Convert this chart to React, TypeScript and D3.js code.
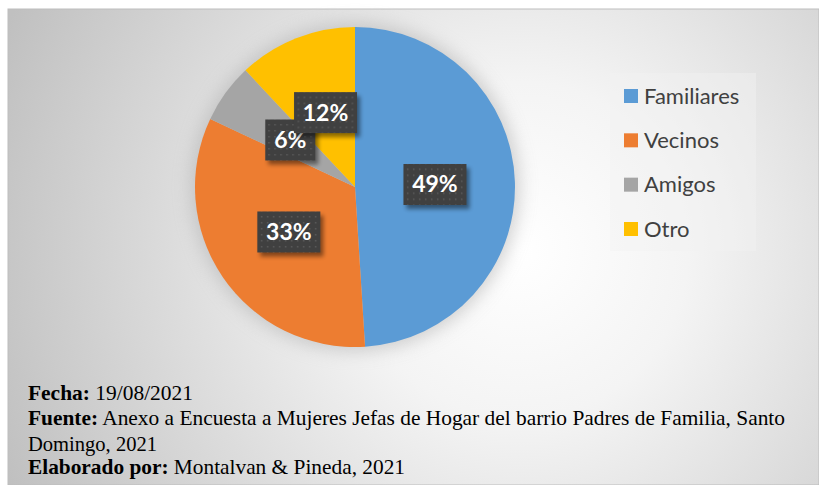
import React from "react";
import * as d3 from "d3";

const categories = ["Familiares", "Vecinos", "Amigos", "Otro"];
const values = [49, 33, 6, 12];
const labels = ["49%", "33%", "6%", "12%"];
const colors = ["#5B9BD5", "#ED7D31", "#A5A5A5", "#FFC000"];
const footLines = [
  { bold: "Fecha:", rest: " 19/08/2021", width: 165 },
  { bold: "Fuente:", rest: " Anexo a Encuesta a Mujeres Jefas de Hogar del barrio Padres de Familia, Santo", width: 757 },
  { bold: "", rest: "Domingo, 2021", width: 129 },
  { bold: "Elaborado por:", rest: " Montalvan & Pineda, 2021", width: 377 },
];

export default function App() {
  const W = 819, H = 485;
  const cx = 355, cy = 187, r = 160;
  const pie = d3.pie<number>().sort(null).value((d) => d)(values);
  const arc = d3.arc<d3.PieArcDatum<number>>().innerRadius(0).outerRadius(r);
  const lab = d3.arc<d3.PieArcDatum<number>>().innerRadius(0).outerRadius(r);
  const legendY = d3.scalePoint<string>().domain(categories).range([96, 229]);
  const boxW = (s: string) => (s.length === 2 ? 50 : 63);
  const footBase = [400, 425, 451, 474];
  return (
    <svg width={W} height={H} style={{ position: "absolute", left: 0, top: 0 }}>
      <defs>
        <radialGradient id="bg" gradientUnits="userSpaceOnUse" cx={520} cy={250} r={560}>
          <stop offset="0" stopColor="#ffffff" />
          <stop offset="0.3" stopColor="#f4f4f4" />
          <stop offset="1" stopColor="#c0c0c0" />
        </radialGradient>
        <filter id="glow" x="-30%" y="-30%" width="160%" height="160%">
          <feGaussianBlur stdDeviation="9" />
        </filter>
        <filter id="sh" x="-30%" y="-30%" width="160%" height="160%">
          <feGaussianBlur stdDeviation="2" />
        </filter>
        <pattern id="dots" width="6" height="6" patternUnits="userSpaceOnUse">
          <rect width="6" height="6" fill="#404040" />
          <rect x="2" y="2" width="1.5" height="1.5" fill="#5a5a5a" />
        </pattern>
      </defs>
      <rect x={0} y={0} width={W} height={H} fill="#ffffff" />
      <rect x={8} y={9} width={W - 8} height={H - 9} fill="url(#bg)" stroke="#bdbdbd" strokeWidth={1} />
      <g transform={`translate(${cx},${cy})`}>
        <circle r={r + 4} fill="#b0b0b0" opacity={0.6} filter="url(#glow)" />
        {pie.map((d, i) => (
          <path key={i} d={arc(d) || ""} fill={colors[i]} />
        ))}
        {pie.map((d, i) => {
          const [x, y] = lab.centroid(d);
          const w = boxW(labels[i]);
          const h = 41;
          return (
            <g key={"l" + i} transform={`translate(${x},${y})`}>
              <rect x={-w / 2 + 3} y={-h / 2 + 4} width={w} height={h} fill="#000" opacity={0.45} filter="url(#sh)" />
              <rect x={-w / 2} y={-h / 2} width={w} height={h} fill="url(#dots)" />
              <text x={0} y={8} textAnchor="middle" fill="#ffffff" fontFamily="Lato, 'Open Sans', sans-serif" fontWeight="bold" fontSize={23}>
                {labels[i]}
              </text>
            </g>
          );
        })}
      </g>
      <rect x={610} y={73} width={146} height={178} fill="#f2f2f2" opacity={0.45} />
      {categories.map((c, i) => (
        <g key={c} transform={`translate(624,${legendY(c)})`}>
          <rect x={0} y={-7} width={14} height={14} fill={colors[i]} />
          <text x={20} y={7.5} fill="#404040" fontFamily="Lato, 'Open Sans', sans-serif" fontSize={22}>
            {c}
          </text>
        </g>
      ))}
      {footLines.map((l, i) => (
        <text key={i} x={28} y={footBase[i]} fontFamily="'Liberation Serif', 'Times New Roman', serif" fontSize={21} fill="#000" textLength={l.width} lengthAdjust="spacingAndGlyphs">
          {l.bold && <tspan fontWeight="bold">{l.bold}</tspan>}
          <tspan>{l.rest}</tspan>
        </text>
      ))}
    </svg>
  );
}
